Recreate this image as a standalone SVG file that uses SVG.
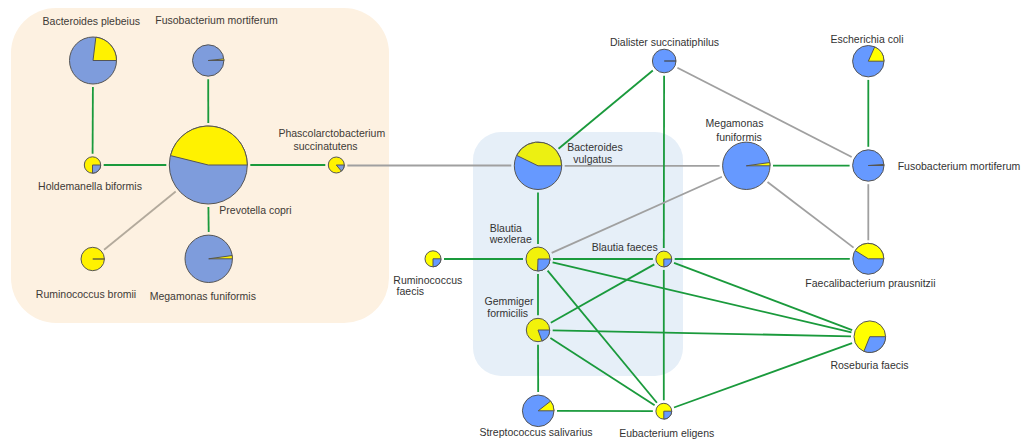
<svg xmlns="http://www.w3.org/2000/svg" width="1032" height="439" viewBox="0 0 1032 439">
<style>
text{font-family:"Liberation Sans",Arial,sans-serif;font-size:10.5px;fill:#333;text-anchor:middle}
.l text{fill:#3d3a36}
.st{text-anchor:start}
.g{stroke:#1a9a3c;stroke-width:1.8;fill:none}
.gr{stroke:#a0a0a0;stroke-width:1.8;fill:none}
.grl{stroke:#b3aa9c;stroke-width:1.8;fill:none}
.bl{fill:#7e9cdc;stroke:#555;stroke-width:1}
.yl{fill:#fff200;stroke:#555;stroke-width:1}
.b{fill:#6699ff;stroke:#555;stroke-width:1}
.y{fill:#ffff00;stroke:#555;stroke-width:1}
.yb{fill:#ecf012;stroke:#555;stroke-width:1}
.yp{fill:#f2f20a;stroke:#555;stroke-width:1}
.d{stroke:#444;stroke-width:1.2;fill:none}
</style>
<rect x="11" y="8" width="378" height="315" rx="45" fill="#fdf1e1"/>
<rect x="473" y="132" width="210" height="244" rx="28" fill="#e6eff8"/>
<g id="connectors">
<line class="g" x1="92.9" y1="87" x2="92.6" y2="153.8"/>
<line class="g" x1="208.2" y1="79.2" x2="208.3" y2="123"/>
<line class="g" x1="103.7" y1="165" x2="166.3" y2="165"/>
<line class="g" x1="250.3" y1="165" x2="325.3" y2="165"/>
<line class="grl" x1="175.7" y1="191.5" x2="104.1" y2="249.7"/>
<line class="g" x1="208.4" y1="207" x2="208.7" y2="232.1"/>
<line class="gr" x1="347.3" y1="165.5" x2="511.3" y2="165.5"/>
<line class="gr" x1="564.7" y1="165.8" x2="719.6" y2="165.8"/>
<line class="g" x1="652.8" y1="70.5" x2="558.5" y2="148.7"/>
<line class="g" x1="664.1" y1="75.8" x2="663.8" y2="248.1"/>
<line class="gr" x1="677.4" y1="67.7" x2="851.7" y2="157"/>
<line class="g" x1="868.3" y1="79.9" x2="868.3" y2="146.8"/>
<line class="g" x1="773" y1="165.7" x2="849.6" y2="165.6"/>
<line class="gr" x1="721.9" y1="176.7" x2="551.7" y2="252.9"/>
<line class="gr" x1="767.5" y1="182" x2="853.6" y2="247.6"/>
<line class="gr" x1="868.3" y1="184.2" x2="868.3" y2="240.3"/>
<line class="g" x1="538" y1="192.5" x2="538" y2="244"/>
<line class="g" x1="444" y1="259" x2="523" y2="259"/>
<line class="g" x1="553" y1="259" x2="652.9" y2="259"/>
<line class="g" x1="674.7" y1="259" x2="849.8" y2="258.8"/>
<line class="g" x1="538" y1="274" x2="538" y2="315.3"/>
<line class="g" x1="538" y1="344.7" x2="538.2" y2="392"/>
<line class="g" x1="557" y1="410.9" x2="652.9" y2="411.2"/>
<line class="g" x1="663.8" y1="269.9" x2="663.8" y2="400.3"/>
<line class="g" x1="552.6" y1="262.4" x2="851.5" y2="332.4"/>
<line class="g" x1="547.6" y1="270.6" x2="656.9" y2="402.8"/>
<line class="g" x1="654.3" y1="264.4" x2="550.8" y2="322.8"/>
<line class="g" x1="674" y1="262.8" x2="852.2" y2="330.1"/>
<line class="g" x1="552.7" y1="330.3" x2="851" y2="336.3"/>
<line class="g" x1="550.4" y1="338" x2="654.6" y2="405.3"/>
<line class="g" x1="674" y1="407.5" x2="852.1" y2="343.1"/>
</g>
<g class="l">
<g id="bacteroides-plebeius">
<circle class="bl" cx="93" cy="60.5" r="23.5"/>
<path class="yl" d="M93,60.5 L95.86,37.18 A23.5,23.5 0 0 1 116.5,60.5 Z"/>
<text x="91.3" y="25">Bacteroides plebeius</text>
</g>
<g id="fusobacterium-mortiferum-left">
<circle class="bl" cx="208.2" cy="60.5" r="15.7"/>
<path class="yl" d="M208.2,60.5 L223.81,58.86 A15.7,15.7 0 0 1 223.9,60.5 Z"/>
<text x="216.5" y="24">Fusobacterium mortiferum</text>
</g>
<g id="prevotella-copri">
<circle class="bl" cx="208.3" cy="165" r="39"/>
<path class="yl" d="M208.3,165 L170.46,155.57 A39,39 0 0 1 247.3,165 Z"/>
<text x="255.5" y="214">Prevotella copri</text>
</g>
<g id="holdemanella-biformis">
<circle class="yl" cx="92.5" cy="165" r="8.2"/>
<path class="bl" d="M92.5,165 L100.7,165 A8.2,8.2 0 0 1 92.5,173.2 Z"/>
<text x="90" y="189.5">Holdemanella biformis</text>
</g>
<g id="phascolarctobacterium-succinatutens">
<circle class="yl" cx="336.3" cy="165" r="8"/>
<path class="bl" d="M336.3,165 L344.3,165 A8,8 0 0 1 341.44,171.13 Z"/>
<text x="331.8" y="137">Phascolarctobacterium</text>
<text x="325.5" y="149.5">succinatutens</text>
</g>
<g id="ruminococcus-bromii">
<circle class="yl" cx="92.7" cy="259" r="11.7"/>
<line class="d" x1="92.7" y1="259" x2="104.4" y2="259"/>
<text x="86" y="298">Ruminococcus bromii</text>
</g>
<g id="megamonas-funiformis-left">
<circle class="bl" cx="208.7" cy="258.8" r="23.7"/>
<path class="yl" d="M208.7,258.8 L232.17,255.5 A23.7,23.7 0 0 1 232.4,258.8 Z"/>
<text x="202.8" y="299.5">Megamonas funiformis</text>
</g>
</g>
<g id="dialister-succinatiphilus">
<circle class="b" cx="664.2" cy="61" r="11.8"/>
<line class="d" x1="664.2" y1="61" x2="676" y2="61"/>
<text x="664.5" y="45.5">Dialister succinatiphilus</text>
</g>
<g id="bacteroides-vulgatus">
<circle class="b" cx="538" cy="165.8" r="23.7"/>
<path class="yb" d="M538,165.8 L516.7,155.41 A23.7,23.7 0 0 1 561.7,165.8 Z"/>
<text x="595" y="150.5">Bacteroides</text>
<text x="592.8" y="163">vulgatus</text>
</g>
<g id="megamonas-funiformis-right">
<circle class="b" cx="746.3" cy="165.8" r="23.7"/>
<path class="y" d="M746.3,165.8 L769.77,162.5 A23.7,23.7 0 0 1 770,165.8 Z"/>
<text x="734.5" y="127">Megamonas</text>
<text x="739" y="140.5">funiformis</text>
</g>
<g id="escherichia-coli">
<circle class="b" cx="868.3" cy="61.2" r="15.7"/>
<path class="y" d="M868.3,61.2 L874.69,46.86 A15.7,15.7 0 0 1 884,61.2 Z"/>
<text x="867" y="43">Escherichia coli</text>
</g>
<g id="fusobacterium-mortiferum-right">
<circle class="b" cx="868.3" cy="165.5" r="15.7"/>
<path class="y" d="M868.3,165.5 L883.96,164.4 A15.7,15.7 0 0 1 884,165.5 Z"/>
<text class="st" x="897.7" y="169.5">Fusobacterium mortiferum</text>
</g>
<g id="faecalibacterium-prausnitzii">
<circle class="b" cx="868.3" cy="258.8" r="15.5"/>
<path class="y" d="M868.3,258.8 L855.16,250.59 A15.5,15.5 0 0 1 883.8,258.8 Z"/>
<text x="870.4" y="287">Faecalibacterium prausnitzii</text>
</g>
<g id="roseburia-faecis">
<circle class="y" cx="869.8" cy="336.7" r="15.8"/>
<path class="b" d="M869.8,336.7 L885.6,336.7 A15.8,15.8 0 0 1 863.88,351.35 Z"/>
<text x="869.5" y="369">Roseburia faecis</text>
</g>
<g id="ruminococcus-faecis">
<circle class="y" cx="433" cy="258.8" r="8"/>
<path class="b" d="M433,258.8 L441,258.8 A8,8 0 0 1 433,266.8 Z"/>
<text x="427.8" y="284">Ruminococcus</text>
<text x="410.3" y="294.5">faecis</text>
</g>
<g id="blautia-wexlerae">
<circle class="yp" cx="538" cy="259" r="12"/>
<path class="b" d="M538,259 L550,259 A12,12 0 0 1 537.58,270.99 Z"/>
<text x="505.8" y="231.5">Blautia</text>
<text x="510.8" y="243">wexlerae</text>
</g>
<g id="blautia-faeces">
<circle class="yp" cx="663.8" cy="259" r="7.9"/>
<path class="b" d="M663.8,259 L671.7,259 A7.9,7.9 0 0 1 663.8,266.9 Z"/>
<text x="624.7" y="250.5">Blautia faeces</text>
</g>
<g id="gemmiger-formicilis">
<circle class="yp" cx="538" cy="330" r="11.7"/>
<path class="b" d="M538,330 L549.7,330 A11.7,11.7 0 0 1 542,340.99 Z"/>
<text x="509" y="305">Gemmiger</text>
<text x="507.7" y="317">formicilis</text>
</g>
<g id="streptococcus-salivarius">
<circle class="b" cx="538.2" cy="410.8" r="15.8"/>
<path class="y" d="M538.2,410.8 L550.65,401.07 A15.8,15.8 0 0 1 554,410.8 Z"/>
<text x="536" y="435.5">Streptococcus salivarius</text>
</g>
<g id="eubacterium-eligens">
<circle class="y" cx="663.8" cy="411.2" r="7.9"/>
<path class="b" d="M663.8,411.2 L671.7,411.2 A7.9,7.9 0 0 1 663.8,419.1 Z"/>
<text x="666.7" y="437">Eubacterium eligens</text>
</g>
</svg>
